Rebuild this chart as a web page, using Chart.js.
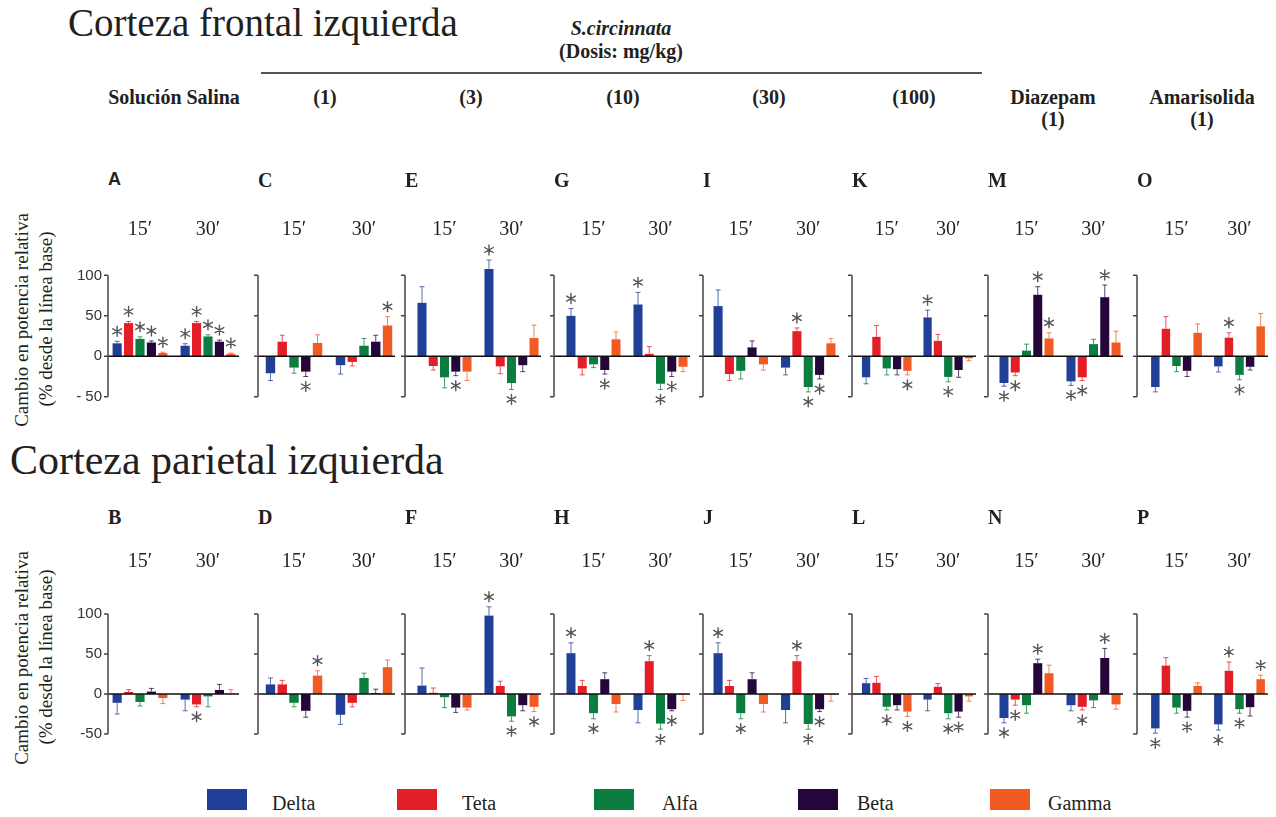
<!DOCTYPE html>
<html lang="es">
<head>
<meta charset="UTF-8">
<title>Corteza frontal y parietal izquierda</title>
<script src="https://cdn.jsdelivr.net/npm/chart.js"></script>
<style>
  body { margin: 0; background: #fff; }
  #page { position: relative; width: 1276px; height: 817px; overflow: hidden;
          font-family: "Liberation Serif", "Times New Roman", serif; color: #231f20; }
  .t { position: absolute; white-space: nowrap; line-height: 1; }
  .c { transform: translateX(-50%); }
  .hdr { font-weight: bold; font-size: 20px; }
  .letter { font-weight: bold; font-size: 20px; }
  .ytitle { position: absolute; font-size: 19px; white-space: nowrap; line-height: 1;
            font-family: "Liberation Serif", "Times New Roman", serif;
            transform: translate(-50%, -50%) rotate(-90deg); }
  .sw { position: absolute; width: 40px; height: 21px; }
  canvas { position: absolute; }
</style>
</head>
<body>
<div id="page">
  <div class="t" style="left:68px; top:3px; font-size:39px;">Corteza frontal izquierda</div>
  <div class="t c hdr" style="left:621px; top:18px; font-style:italic;">S.circinnata</div>
  <div class="t c hdr" style="left:621px; top:41px;">(Dosis: mg/kg)</div>
  <div style="position:absolute; left:261px; top:72px; width:721px; height:2px; background:#555;"></div>

  <div class="t c hdr" style="left:174px; top:87px;">Solución Salina</div>
  <div class="t c hdr" style="left:325px; top:87px;">(1)</div>
  <div class="t c hdr" style="left:471px; top:87px;">(3)</div>
  <div class="t c hdr" style="left:623px; top:87px;">(10)</div>
  <div class="t c hdr" style="left:769px; top:87px;">(30)</div>
  <div class="t c hdr" style="left:914px; top:87px;">(100)</div>
  <div class="t c hdr" style="left:1053px; top:87px;">Diazepam</div>
  <div class="t c hdr" style="left:1053px; top:109px;">(1)</div>
  <div class="t c hdr" style="left:1202px; top:87px;">Amarisolida</div>
  <div class="t c hdr" style="left:1202px; top:109px;">(1)</div>

  <div class="t" style="left:10px; top:439px; font-size:42px;">Corteza parietal izquierda</div>

  <div class="ytitle" style="left:21px; top:320px;">Cambio en potencia relativa</div>
  <div class="ytitle" style="left:45px; top:319px;">(% desde la línea base)</div>
  <div class="ytitle" style="left:21px; top:658px;">Cambio en potencia relativa</div>
  <div class="ytitle" style="left:45px; top:657px;">(% desde la línea base)</div>

  <div id="legend"></div>
</div>

<script>
// bandas y colores
const bands = ['Delta', 'Teta', 'Alfa', 'Beta', 'Gamma'];
const bandColors = ['#203f96', '#e31e27', '#0b7d3e', '#25063a', '#f15a22'];
const times = ['15\u2032', '30\u2032'];
const yTicks = [-50, 0, 50, 100];

// orden en cada panel: 15' Delta..Gamma, luego 30' Delta..Gamma
const meanA = [16, 41, 21.5, 17, 4, 13, 41, 24.5, 18, 3];
const semA  = [2.5, 2, 2.5, 2, 1, 2.5, 2, 2, 2, 1];
const sigA  = [1, 1, 1, 1, 1, 1, 1, 1, 1, 1];

const meanC = [-21, 18, -14, -19, 16.5, -11, -7, 13, 18, 38];
const semC  = [9, 8, 7, 6, 10, 11, 5, 9, 8, 11];
const sigC  = [0, 0, 0, 1, 0, 0, 0, 0, 0, 1];

const meanE = [66, -12, -26, -19, -19, 108, -12.5, -33, -11, 22.5];
const semE  = [20, 5, 13, 5, 11, 11, 9, 8, 8, 16];
const sigE  = [0, 0, 0, 1, 0, 1, 0, 1, 0, 0];

const meanG = [50, -15, -10, -17, 21, 64, 3, -34, -19, -13];
const semG  = [9, 8, 4, 5, 9, 15, 9, 7, 6, 6];
const sigG  = [1, 0, 0, 1, 0, 1, 0, 1, 1, 0];

const meanI = [62, -22, -18, 11, -10, -14, 31, -38, -23, 16];
const semI  = [20, 8, 10, 8, 7, 9, 4, 6, 5, 6];
const sigI  = [0, 0, 0, 0, 0, 0, 1, 1, 1, 0];

const meanK = [-26, 24, -15, -16, -18, 48, 19, -25.5, -17, -2.5];
const semK  = [8, 14, 8, 7, 5, 9, 8, 6, 9, 3];
const sigK  = [0, 0, 0, 0, 1, 1, 0, 1, 0, 0];

const meanM = [-33, -20, 7, 76, 22, -31, -26, 15, 73, 17];
const semM  = [4, 4, 8, 10, 7, 5, 4, 6, 15, 14];
const sigM  = [1, 1, 0, 1, 1, 1, 1, 0, 1, 0];

const meanO = [-38, 34, -12, -18, 29, -12.5, 23, -23, -13, 37];
const semO  = [6, 15, 7, 7, 11, 7, 6, 6, 4, 16];
const sigO  = [0, 0, 0, 0, 0, 0, 1, 1, 0, 0];

const meanB = [-11, 2.5, -10, 3, -5, -7, -13, -3, 5, 0.5];
const semB  = [14, 3, 5, 4, 7, 14, 3, 13, 7, 5];
const sigB  = [0, 0, 0, 0, 0, 0, 1, 0, 0, 0];

const meanD = [12, 12, -11, -21, 23, -26, -11, 20, 1, 33.5];
const semD  = [8, 5, 5, 8, 6, 12, 5, 6, 5, 9];
const sigD  = [0, 0, 0, 0, 1, 0, 0, 0, 0, 0];

const meanF = [10.5, 1.5, -4, -17, -17, 98, 10, -28, -14, -16];
const semF  = [22, 6, 13, 6, 3, 11, 6, 6, 7, 6];
const sigF  = [0, 0, 0, 0, 0, 1, 0, 1, 0, 1];

const meanH = [51, 10, -24, 18.5, -12.5, -20, 41, -37, -19, -1];
const semH  = [13, 7, 7, 8, 10, 16, 7, 7, 2, 7];
const sigH  = [1, 0, 1, 0, 0, 0, 1, 1, 1, 0];

const meanJ = [51, 10, -24, 18.5, -12.5, -20, 41, -37.5, -19, -1];
const semJ  = [13, 7, 7, 8, 10, 16, 7, 6.5, 3, 8];
const sigJ  = [1, 0, 1, 0, 0, 0, 1, 1, 1, 0];

const meanL = [13.5, 14, -16, -14, -22, -7, 9, -24, -22, -3];
const semL  = [6, 8, 4, 6, 6, 14, 4, 7, 7, 6];
const sigL  = [0, 0, 1, 0, 1, 0, 0, 1, 1, 0];

const meanN = [-30, -7, -14, 38.5, 26, -14, -16, -8, 45, -13];
const semN  = [6, 7, 10, 5, 10, 7, 4, 9, 12, 6];
const sigN  = [1, 1, 0, 1, 0, 0, 1, 0, 1, 0];

const meanP = [-43, 35.5, -17, -21, 10, -38, 29, -19, -16.5, 18.5];
const semP  = [6, 10, 7, 8, 4, 7, 11, 5, 11, 5];
const sigP  = [1, 0, 0, 1, 0, 1, 1, 1, 0, 1];

const topPanels = ['A', 'C', 'E', 'G', 'I', 'K', 'M', 'O'];
const bottomPanels = ['B', 'D', 'F', 'H', 'J', 'L', 'N', 'P'];
const panelMeans = { A: meanA, C: meanC, E: meanE, G: meanG, I: meanI, K: meanK, M: meanM, O: meanO,
                     B: meanB, D: meanD, F: meanF, H: meanH, J: meanJ, L: meanL, N: meanN, P: meanP };
const panelSems  = { A: semA, C: semC, E: semE, G: semG, I: semI, K: semK, M: semM, O: semO,
                     B: semB, D: semD, F: semF, H: semH, J: semJ, L: semL, N: semN, P: semP };
const panelSigs  = { A: sigA, C: sigC, E: sigE, G: sigG, I: sigI, K: sigK, M: sigM, O: sigO,
                     B: sigB, D: sigD, F: sigF, H: sigH, J: sigJ, L: sigL, N: sigN, P: sigP };

// geometria de columnas y filas (px de la pagina)
const cols = [
  { axis: 108, left: 113, right: 236 },
  { axis: 258, left: 266, right: 392 },
  { axis: 405, left: 417, right: 538 },
  { axis: 554, left: 566, right: 687 },
  { axis: 703, left: 714, right: 836 },
  { axis: 852, left: 862, right: 973 },
  { axis: 988, left: 999, right: 1120 },
  { axis: 1137, left: 1151, right: 1265 }
];
const rows = [
  { zero: 356, k: 0.81, letterY: 170, timeY: 230, neg: '- 50' },
  { zero: 694, k: 0.80, letterY: 507, timeY: 562, neg: '-50' }
];
const Y_MIN = -80, Y_MAX = 140, X_H = 40;

const page = document.getElementById('page');

function star(ctx, x, y) {
  const r = 5;
  ctx.beginPath();
  for (let k = 0; k < 3; k++) {
    const a = Math.PI / 2 + k * Math.PI / 3;
    ctx.moveTo(x - r * Math.cos(a), y - r * Math.sin(a));
    ctx.lineTo(x + r * Math.cos(a), y + r * Math.sin(a));
  }
  ctx.stroke();
}

function makePanel(name, ci, ri) {
  const c = cols[ci], r = rows[ri];
  const first = ci === 0;
  const means = panelMeans[name], sems = panelSems[name], sigs = panelSigs[name];

  const w = (c.right - c.left) / 1.8064;        // ancho de cada grupo (categoria)
  const L = Math.round(c.left - 0.0968 * w);    // borde izquierdo del area de grafico
  const yW = first ? 60 : 14;
  const canvasLeft = L - yW;
  const areaTop = Math.round(r.zero - Y_MAX * r.k);
  const areaH = Math.round((Y_MAX - Y_MIN) * r.k);
  const canvasTop = areaTop - X_H;

  const cv = document.createElement('canvas');
  cv.width = yW + Math.round(2 * w);
  cv.height = areaH + X_H;
  cv.style.left = canvasLeft + 'px';
  cv.style.top = canvasTop + 'px';
  page.appendChild(cv);

  // letra del panel
  const lt = document.createElement('div');
  lt.className = 't letter';
  lt.textContent = name;
  lt.style.left = c.axis + 'px';
  lt.style.top = r.letterY + 'px';
  if (name === 'A') { lt.style.fontFamily = '"Liberation Sans", Arial, sans-serif'; lt.style.fontSize = '18px'; }
  page.appendChild(lt);

  const axisPx = c.axis - canvasLeft;
  const rightPx = c.right + 3 - canvasLeft;

  const decor = {
    id: 'decor' + name,
    afterDatasetsDraw(chart) {
      const ctx = chart.ctx, ys = chart.scales.y;
      ctx.save();
      // barras de error y asteriscos
      for (let i = 0; i < bands.length; i++) {
        const meta = chart.getDatasetMeta(i);
        for (let j = 0; j < 2; j++) {
          const bar = meta.data[j];
          const idx = j * 5 + i;
          const v = means[idx], e = sems[idx];
          const dir = v >= 0 ? 1 : -1;
          const y0 = ys.getPixelForValue(v);
          const y1 = ys.getPixelForValue(v + dir * e);
          ctx.strokeStyle = bandColors[i];
          ctx.globalAlpha = 0.75;
          ctx.lineWidth = 1;
          ctx.beginPath();
          ctx.moveTo(bar.x, y0);
          ctx.lineTo(bar.x, y1);
          ctx.moveTo(bar.x - 2.5, y1);
          ctx.lineTo(bar.x + 2.5, y1);
          ctx.stroke();
          ctx.globalAlpha = 1;
          if (sigs[idx]) {
            ctx.strokeStyle = '#555';
            ctx.lineWidth = 1.4;
            ctx.lineCap = 'round';
            star(ctx, bar.x, y1 - dir * 10);
            ctx.lineCap = 'butt';
          }
        }
      }
      // linea cero
      const y0 = ys.getPixelForValue(0);
      ctx.strokeStyle = '#111';
      ctx.lineWidth = 1.5;
      ctx.beginPath();
      ctx.moveTo(axisPx, y0);
      ctx.lineTo(rightPx, y0);
      ctx.stroke();
      // eje y con marcas
      ctx.strokeStyle = '#444';
      ctx.beginPath();
      ctx.moveTo(axisPx, ys.getPixelForValue(100));
      ctx.lineTo(axisPx, ys.getPixelForValue(-50));
      yTicks.forEach(t => {
        const yy = ys.getPixelForValue(t);
        ctx.moveTo(axisPx - 4, yy);
        ctx.lineTo(axisPx, yy);
      });
      ctx.stroke();
      ctx.restore();
    }
  };

  new Chart(cv, {
    type: 'bar',
    data: {
      labels: times,
      datasets: bands.map((b, i) => ({
        label: b,
        data: [means[i], means[i + 5]],
        backgroundColor: bandColors[i],
        borderWidth: 0,
        categoryPercentage: 0.84,
        barPercentage: 0.8
      }))
    },
    options: {
      responsive: false,
      animation: false,
      devicePixelRatio: 1,
      events: [],
      layout: { padding: 0, autoPadding: false },
      plugins: { legend: { display: false }, tooltip: { enabled: false } },
      scales: {
        x: {
          position: 'top',
          grid: { display: false, drawTicks: false },
          border: { display: false },
          ticks: {
            font: { family: 'Liberation Serif', size: 20 },
            color: '#231f20',
            padding: Math.max(0, areaTop - r.timeY - 12),
            maxRotation: 0
          },
          afterFit: s => { s.height = X_H; s.paddingLeft = 0; s.paddingRight = 0; }
        },
        y: {
          min: Y_MIN,
          max: Y_MAX,
          grid: { display: false, drawTicks: false },
          border: { display: false },
          afterBuildTicks: s => { s.ticks = yTicks.map(v => ({ value: v })); },
          ticks: {
            display: first,
            padding: L - (c.axis - 6),
            font: { family: 'Liberation Sans', size: 15 },
            color: '#333',
            callback: v => (v === -50 ? r.neg : String(v))
          },
          afterFit: s => { s.width = yW; s.paddingTop = 0; s.paddingBottom = 0; }
        }
      }
    },
    plugins: [decor]
  });
}

topPanels.forEach((p, i) => makePanel(p, i, 0));
bottomPanels.forEach((p, i) => makePanel(p, i, 1));

// leyenda
const legendSwatchX = [207, 397, 594, 798, 990];
const legendTextX = [272, 462, 662, 857, 1048];
const legend = document.getElementById('legend');
bands.forEach((b, i) => {
  const sw = document.createElement('div');
  sw.className = 'sw';
  sw.style.left = legendSwatchX[i] + 'px';
  sw.style.top = '789px';
  sw.style.background = bandColors[i];
  legend.appendChild(sw);
  const tx = document.createElement('div');
  tx.className = 't';
  tx.style.left = legendTextX[i] + 'px';
  tx.style.top = '793px';
  tx.style.fontSize = '20px';
  tx.textContent = b;
  legend.appendChild(tx);
});
</script>
</body>
</html>
